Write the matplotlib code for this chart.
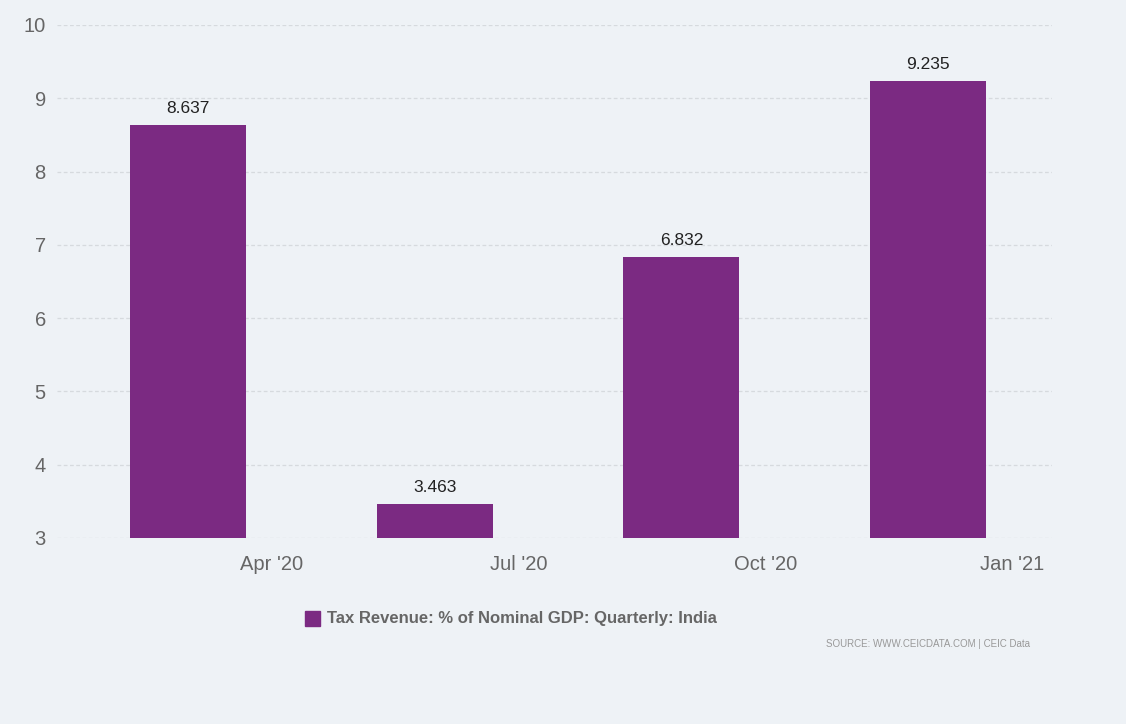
import matplotlib
matplotlib.use('Agg')
import matplotlib.pyplot as plt
from matplotlib.patches import Rectangle
import numpy as np

# Quarterly tax revenue as % of nominal GDP, India
quarters = ["Apr '20", "Jul '20", "Oct '20", "Jan '21"]
values = [8.637, 3.463, 6.832, 9.235]
yticks = [3, 4, 5, 6, 7, 8, 9, 10]

bg = '#eef2f6'
bar_color = '#7b2a82'
text_gray = '#666666'
font = ['Liberation Sans', 'DejaVu Sans']

fig = plt.figure(figsize=(11.26, 7.24), dpi=100, facecolor=bg)
ax = fig.add_axes([0.0506, 0.257, 0.8834, 0.7085], facecolor=bg)

x = np.arange(len(values))
base = 3
ax.bar(x, np.array(values) - base, bottom=base, width=0.47, color=bar_color, zorder=3)

for xi, v in zip(x, values):
    ax.text(xi, v + 0.12, f'{v:.3f}', ha='center', va='bottom', fontsize=12.5,
            color='#222222', family=font)

ax.set_xlim(-0.53, 3.5)
ax.set_ylim(3, 10)
ax.set_yticks(yticks)
ax.set_yticklabels([str(t) for t in yticks], fontsize=14.5, color=text_gray, family=font)
ax.set_xticks(x + 0.34)
ax.set_xticklabels(quarters, fontsize=14.5, color=text_gray, family=font)
ax.tick_params(axis='both', length=0)
ax.tick_params(axis='y', pad=8)
ax.tick_params(axis='x', pad=12)

for s in ax.spines.values():
    s.set_visible(False)
ax.yaxis.grid(True, linestyle=(0, (3, 2)), color='#d6dade', linewidth=0.9, zorder=0)
ax.set_axisbelow(True)

# legend entry
fig.patches.append(Rectangle((305 / 1126, 1 - 626 / 724), 15 / 1126, 15 / 724,
                             transform=fig.transFigure, color=bar_color))
fig.text(327 / 1126, 1 - 618 / 724, 'Tax Revenue: % of Nominal GDP: Quarterly: India',
         ha='left', va='center', fontsize=12, fontweight='bold', color=text_gray, family=font)

fig.text(1030 / 1126, 1 - 644 / 724, 'SOURCE: WWW.CEICDATA.COM | CEIC Data',
         ha='right', va='center', fontsize=7, color='#999999', family=font)

fig.savefig('out.png', dpi=100, facecolor=bg)
